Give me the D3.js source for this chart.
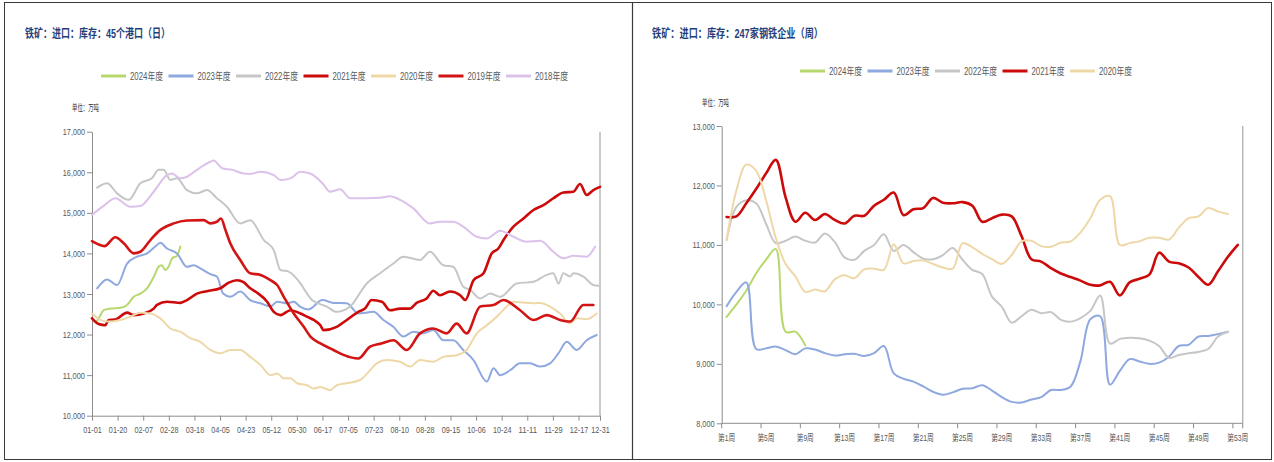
<!DOCTYPE html>
<html>
<head>
<meta charset="utf-8">
<script src="https://cdn.jsdelivr.net/npm/d3@7"></script>
<style>
  body { margin: 0; background: #fff; }
  svg { display: block; }
  text { font-family: "Liberation Sans Narrow", "Liberation Sans", "Noto Sans CJK SC", sans-serif; }
</style>
</head>
<body>
<svg id="chart" width="1274" height="462"></svg>
<script>
// ---------- left chart: 45 ports, daily (x = position in label slots) ----------
const leftDates = ["01-01","01-20","02-07","02-28","03-18","04-05","04-23","05-12","05-30","06-17",
  "07-05","07-23","08-10","08-28","09-15","10-06","10-24","11-11","11-29","12-17","12-31"];
const leftEnd = 19.84;
const leftYTicks = [10000, 11000, 12000, 13000, 14000, 15000, 16000, 17000];
const leftNames = ["2024年度","2023年度","2022年度","2021年度","2020年度","2019年度","2018年度"];

const port2024 = [[0.15,12300],[0.26,12400],[0.46,12600],[0.72,12640],[1.11,12660],[1.37,12730],[1.63,12930],
  [1.89,13010],[2.15,13140],[2.41,13420],[2.6,13670],[2.73,13710],[2.86,13590],[2.99,13670],[3.13,13880],
  [3.32,13940],[3.45,14170]];
const port2023 = [[0.2,13140],[0.59,13360],[0.98,13220],[1.37,13750],[1.76,13920],[2.15,14000],[2.47,14170],
  [2.67,14260],[2.93,14120],[3.32,14000],[3.71,13670],[3.97,13710],[4.23,13630],[4.62,13490],[4.88,13430],
  [5.12,13010],[5.4,12930],[5.79,13060],[6.18,12850],[6.58,12770],[6.97,12690],[7.23,12810],[7.62,12770],
  [7.88,12810],[8.14,12680],[8.45,12620],[9.0,12850],[9.43,12780],[9.95,12770],[10.4,12520],[10.99,12560],
  [11.38,12360],[11.77,12190],[12.16,11950],[12.55,12070],[12.94,12030],[13.33,12110],[13.72,11860],
  [14.11,11860],[14.5,11620],[14.9,11370],[15.42,10840],[15.68,11170],[15.94,11000],[16.33,11120],
  [16.72,11290],[17.11,11290],[17.5,11210],[17.89,11290],[18.22,11540],[18.54,11820],[18.93,11620],
  [19.32,11860],[19.71,11990]];
const port2022 = [[0.2,15620],[0.59,15730],[0.98,15480],[1.43,15320],[1.89,15730],[2.34,15850],[2.6,16060],
  [2.8,16060],[3.06,15810],[3.32,15850],[3.71,15560],[4.1,15480],[4.49,15560],[4.88,15360],[5.27,15150],
  [5.79,14740],[6.18,14820],[6.71,14330],[7.1,14080],[7.36,13590],[7.68,13550],[8.14,13260],[8.4,13010],
  [8.59,12850],[9.17,12690],[9.56,12560],[10.08,12690],[10.73,13260],[11.25,13510],[11.77,13750],
  [12.16,13920],[12.81,13840],[13.2,14040],[13.72,13710],[14.11,13670],[14.5,13180],[14.77,13100],
  [15.16,12890],[15.55,13010],[15.94,12930],[16.59,13260],[17.24,13300],[17.76,13470],[18.02,13510],
  [18.22,13260],[18.41,13510],[18.67,13430],[18.8,13510],[19.19,13430],[19.58,13220],[19.77,13200]];
const port2021 = [[0,12400],[0.26,12260],[0.52,12230],[0.65,12360],[0.91,12370],[1.37,12540],[1.63,12480],
  [2.02,12520],[2.41,12640],[2.54,12730],[2.93,12810],[3.45,12780],[3.71,12850],[4.1,13010],[4.49,13070],
  [5.01,13140],[5.34,13280],[5.66,13340],[5.92,13290],[6.18,13140],[6.45,13030],[6.84,12810],[7.1,12560],
  [7.36,12480],[7.75,12600],[8.14,12520],[8.4,12440],[8.66,12360],[8.92,12230],[9.04,12110],[9.56,12190],
  [9.95,12360],[10.4,12560],[10.66,12640],[10.92,12850],[11.32,12810],[11.64,12600],[12.03,12640],
  [12.42,12640],[12.68,12780],[13.07,12890],[13.33,13080],[13.59,12970],[13.98,13060],[14.38,12970],
  [14.58,12850],[14.9,13340],[15.29,13510],[15.61,14000],[15.87,14120],[16.07,14330],[16.46,14660],
  [16.85,14860],[17.24,15070],[17.63,15190],[18.02,15360],[18.41,15500],[18.8,15520],[19.06,15710],
  [19.32,15440],[19.58,15560],[19.84,15640]];
const port2020 = [[0,12520],[0.33,12360],[0.59,12320],[1.11,12360],[1.5,12440],[1.89,12540],[2.28,12520],
  [2.67,12400],[3.06,12150],[3.45,12070],[3.84,11910],[4.23,11820],[4.62,11620],[5.01,11540],[5.4,11620],
  [5.79,11620],[6.18,11450],[6.58,11250],[6.97,11000],[7.23,11040],[7.49,10920],[7.75,10920],[8.01,10800],
  [8.4,10750],[8.66,10670],[8.92,10710],[9.3,10630],[9.56,10750],[9.95,10800],[10.47,10880],[10.86,11120],
  [11.12,11290],[11.51,11370],[12.03,11330],[12.42,11210],[12.81,11370],[13.33,11330],[13.72,11450],
  [14.24,11490],[14.63,11620],[15.03,12030],[15.42,12230],[15.81,12440],[16.2,12690],[16.46,12810],
  [16.85,12790],[17.24,12770],[17.5,12780],[17.89,12690],[18.28,12520],[18.67,12270],[18.93,12400],
  [19.32,12380],[19.71,12520]];
const port2019 = [[0,14300],[0.49,14180],[0.91,14400],[1.24,14250],[1.63,14000],[1.89,14040],[2.28,14330],
  [2.67,14580],[3.19,14740],[3.71,14810],[4.36,14820],[4.62,14740],[4.88,14780],[5.04,14860],[5.21,14580],
  [5.4,14250],[5.79,13840],[6.18,13510],[6.58,13470],[6.97,13340],[7.23,13220],[7.49,12930],[7.88,12520],
  [8.27,12190],[8.53,11950],[8.92,11780],[9.43,11620],[9.82,11500],[10.4,11410],[10.86,11700],[11.3,11780],
  [11.77,11860],[12.29,11620],[12.81,12030],[13.33,12150],[13.85,12030],[14.24,12270],[14.63,12030],
  [15.16,12690],[15.68,12730],[16.07,12850],[16.72,12600],[17.24,12360],[17.76,12480],[18.28,12360],
  [18.67,12320],[19.19,12730],[19.58,12730]];
const port2018 = [[0,14950],[0.49,15190],[0.91,15360],[1.5,15150],[1.89,15170],[2.41,15520],[2.93,15930],
  [3.13,15970],[3.45,15850],[3.71,15890],[4.1,16060],[4.62,16260],[4.75,16290],[5.08,16100],[5.47,16060],
  [5.92,15970],[6.18,15960],[6.58,16010],[7.1,15930],[7.36,15810],[7.75,15850],[8.14,16010],[8.52,15970],
  [9.0,15730],[9.3,15520],[9.69,15580],[10.08,15360],[10.73,15360],[11.25,15370],[11.64,15410],
  [12.03,15320],[12.55,15110],[13.2,14740],[13.59,14780],[14.11,14780],[14.5,14660],[15.03,14410],
  [15.42,14370],[15.94,14560],[16.46,14410],[16.98,14290],[17.5,14310],[18.02,14040],[18.41,13880],
  [18.8,13940],[19.32,13920],[19.65,14170]];

// ---------- right chart: 247 steel mills, weekly ----------
const weeks = d3.range(1, 54);
const weekTicks = [1, 5, 9, 13, 17, 21, 25, 29, 33, 37, 41, 45, 49, 53];
const rightYTicks = [8000, 9000, 10000, 11000, 12000, 13000];
const rightNames = ["2024年度","2023年度","2022年度","2021年度","2020年度"];

const mill2024 = [9790,10000,10230,10520,10750,10930,9540,9540,9310];
const mill2023 = [9970,10210,10370,9250,9260,9290,9230,9160,9260,9240,9180,9140,9160,9170,9130,9180,9300,
  8840,8750,8700,8620,8530,8480,8520,8580,8590,8640,8550,8440,8360,8350,8400,8440,8560,8560,8620,9050,
  9750,9800,8650,8880,9080,9040,9000,9020,9120,9300,9320,9460,9470,9500,9540];
const mill2022 = [11080,11640,11750,11700,11360,11030,11070,11140,11070,11040,11190,11050,10790,10750,10900,
  11000,11180,10900,11000,10880,10770,10760,10830,10950,10750,10580,10510,10130,9960,9690,9800,9910,9850,
  9870,9740,9710,9770,9890,10150,9340,9420,9440,9430,9390,9300,9100,9150,9180,9200,9250,9460,9540];
const mill2021 = [11470,11480,11700,11940,12200,12430,11800,11390,11540,11420,11520,11420,11360,11490,11490,
  11660,11760,11880,11500,11600,11620,11790,11710,11700,11720,11660,11390,11450,11510,11480,11150,10760,
  10720,10610,10520,10460,10400,10330,10320,10380,10150,10370,10430,10500,10870,10720,10690,10620,10460,
  10330,10560,10800,11000];
const mill2020 = [11080,11920,12350,12250,11760,11120,10680,10470,10210,10250,10220,10420,10490,10440,10590,
  10600,10580,11010,10690,10730,10740,10680,10620,10600,11030,10960,10850,10760,10680,10830,11060,11070,
  10980,10970,11040,11060,11210,11450,11760,11820,11000,11030,11060,11120,11120,11090,11290,11450,11480,
  11620,11560,11520];

const colors = {
  "2024年度": "#b6d86c", "2023年度": "#8fa8df", "2022年度": "#c6c6c6", "2021年度": "#cc0a0a",
  "2020年度": "#efd8a8", "2019年度": "#d31414", "2018年度": "#dcc1ea"
};
const widths = { "2021年度": 2.6, "2019年度": 2.6 };

const svg = d3.select("#chart");

// panel frames
svg.append("rect").attr("x", 4.5).attr("y", 2.5).attr("width", 1267).attr("height", 457)
  .attr("fill", "none").attr("stroke", "#3a3a3a").attr("stroke-width", 1);
svg.append("line").attr("x1", 632.5).attr("x2", 632.5).attr("y1", 2.5).attr("y2", 459.5)
  .attr("stroke", "#3a3a3a").attr("stroke-width", 1.2);

function header(x, title, titleLen, legendX, legendY, names, unitX, unitY) {
  svg.append("text").attr("x", x).attr("y", 38)
    .attr("font-family", "'Noto Sans CJK SC', sans-serif").attr("font-weight", "bold")
    .attr("font-size", 12).attr("fill", "#1f3f7c")
    .attr("textLength", titleLen).attr("lengthAdjust", "spacingAndGlyphs")
    .text(title);

  const lg = svg.append("g").attr("transform", `translate(${legendX},${legendY})`);
  names.forEach((n, i) => {
    const g = lg.append("g").attr("transform", `translate(${i * 67.5},0)`);
    g.append("line").attr("x1", 0).attr("x2", 25).attr("y1", 0).attr("y2", 0)
      .attr("stroke", colors[n]).attr("stroke-width", 3);
    g.append("text").attr("x", 29).attr("y", 3.5).attr("font-size", 10).attr("fill", "#595959")
      .attr("textLength", 33).attr("lengthAdjust", "spacingAndGlyphs").text(n);
  });

  svg.append("text").attr("x", unitX).attr("y", unitY).attr("font-size", 9).attr("fill", "#333")
    .attr("font-family", "'Noto Sans CJK SC', sans-serif")
    .attr("textLength", 27).attr("lengthAdjust", "spacingAndGlyphs").text("单位：万吨");
}

// narrow tick labels, a bit under 4px per character like the source font
function styleAxis(g) {
  g.selectAll("path,line").attr("stroke", "#8c8c8c");
  g.selectAll("text").attr("fill", "#595959").attr("font-size", 9.5)
    .attr("lengthAdjust", "spacingAndGlyphs")
    .attr("textLength", function () { return this.textContent.length * 3.7; });
}

// ---------- left panel ----------
header(25, "铁矿：进口：库存：45个港口（日）", 145, 101, 76, leftNames, 72, 111);

const xL = d3.scaleLinear().domain([0, leftEnd]).range([92, 600]);
const yL = d3.scaleLinear().domain([10000, 17000]).range([415.7, 131.7]);
const leftTickPos = leftDates.map((d, i) => (i < leftDates.length - 1 ? i : leftEnd));

svg.append("line").attr("x1", xL(leftEnd)).attr("x2", xL(leftEnd))
  .attr("y1", yL(17000)).attr("y2", yL(10000)).attr("stroke", "#b4b4b4").attr("stroke-width", 1.4);

svg.append("g").attr("transform", `translate(0,${yL(10000)})`)
  .call(d3.axisBottom(xL).tickValues(leftTickPos).tickFormat((d, i) => leftDates[i])
    .tickSize(5).tickSizeOuter(0).tickPadding(6))
  .call(styleAxis);
svg.append("g").attr("transform", `translate(${xL(0)},0)`)
  .call(d3.axisLeft(yL).tickValues(leftYTicks).tickFormat(d3.format(","))
    .tickSize(5).tickSizeOuter(0).tickPadding(2))
  .call(styleAxis);

const lineL = d3.line().x(d => xL(d[0])).y(d => yL(d[1])).curve(d3.curveMonotoneX);
const portSeries = [port2024, port2023, port2022, port2021, port2020, port2019, port2018];
const gL = svg.append("g");
leftNames.forEach((n, i) => {
  gL.append("path").attr("d", lineL(portSeries[i])).attr("fill", "none")
    .attr("stroke", colors[n]).attr("stroke-width", widths[n] || 2)
    .attr("stroke-linejoin", "round").attr("stroke-linecap", "round");
});

// ---------- right panel ----------
header(652, "铁矿：进口：库存：247家钢铁企业（周）", 171, 800, 71, rightNames, 702, 106);

const xR = d3.scaleBand().domain(weeks).range([721.7, 1242.7]).paddingInner(0).paddingOuter(0);
const bw = xR.bandwidth();
const yR = d3.scaleLinear().domain([8000, 13000]).range([423.3, 126]);

svg.append("line").attr("x1", 1242.7).attr("x2", 1242.7)
  .attr("y1", yR(13000)).attr("y2", yR(8000)).attr("stroke", "#b4b4b4").attr("stroke-width", 1.4);

const gx = svg.append("g").attr("transform", `translate(0,${yR(8000)})`);
gx.append("line").attr("x1", xR.range()[0]).attr("x2", xR.range()[1])
  .attr("stroke", "#8c8c8c");
weekTicks.concat(["end"]).forEach(w => {
  const px = w === "end" ? xR.range()[1] : xR(w);
  gx.append("line").attr("x1", px).attr("x2", px).attr("y1", 0).attr("y2", 5).attr("stroke", "#8c8c8c");
});
gx.selectAll("text.wk").data(weekTicks).enter().append("text")
  .attr("class", "wk").attr("x", w => xR(w) + bw / 2).attr("y", 17.5)
  .attr("text-anchor", "middle").attr("fill", "#595959").attr("font-size", 9.5)
  .attr("font-family", "'Noto Sans CJK SC', sans-serif")
  .attr("textLength", w => (w < 10 ? 17 : 21)).attr("lengthAdjust", "spacingAndGlyphs")
  .text(w => `第${w}周`);

svg.append("g").attr("transform", `translate(${xR.range()[0]},0)`)
  .call(d3.axisLeft(yR).tickValues(rightYTicks).tickFormat(d3.format(","))
    .tickSize(5).tickSizeOuter(0).tickPadding(2))
  .call(styleAxis);

const lineR = d3.line().x((d, i) => xR(weeks[i]) + bw / 2).y(d => yR(d))
  .curve(d3.curveCatmullRom.alpha(0.5));
const millSeries = [mill2024, mill2023, mill2022, mill2021, mill2020];
const gR = svg.append("g");
rightNames.forEach((n, i) => {
  gR.append("path").attr("d", lineR(millSeries[i])).attr("fill", "none")
    .attr("stroke", colors[n]).attr("stroke-width", widths[n] || 2)
    .attr("stroke-linejoin", "round").attr("stroke-linecap", "round");
});
</script>
</body>
</html>
